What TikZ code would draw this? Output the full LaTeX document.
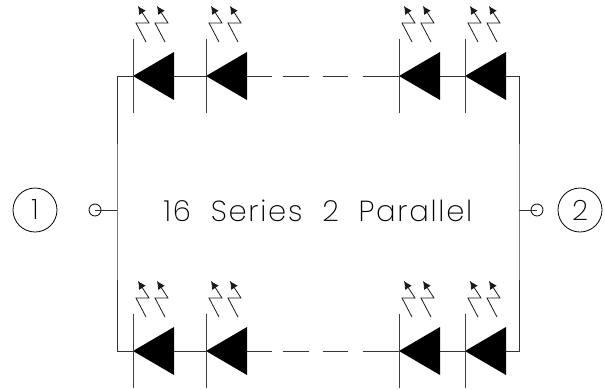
\documentclass[tikz,border=0pt]{standalone}
\usepackage{fontspec}
\newfontfamily\cadfont[UprightFont=* ExtraLight,LetterSpace=6,WordSpace=2.0]{Poppins}
\newfontfamily\numfont[UprightFont=* ExtraLight]{Poppins}
\usetikzlibrary{arrows.meta,calc}
\tikzset{
  x=1pt,y=-1pt,
  wire/.style={line width=1pt,black!80},
  bar/.style={line width=1pt,black!75},
  body/.style={fill=black,draw=none},
  ray/.style={line width=0.8pt,black!90,-{Latex[length=8pt,width=8pt]}},
  terminal/.style={circle,draw,line width=0.8pt,inner sep=0pt,minimum size=44pt,font=\numfont\fontsize{28}{28}\selectfont},
  port/.style={circle,draw,line width=0.8pt,inner sep=0pt,minimum size=12pt},
  caption/.style={inner sep=0pt,font=\cadfont\fontsize{29}{29}\selectfont}
}
\newcommand{\ledunit}[3]{% name, x, y
  \coordinate (#1) at (#2,#3);
  \coordinate (#1b) at (#2+41,#3);
  \fill[body] (#1) -- ($(#1b)+(0,-24)$) -- ($(#1b)+(0,24)$) -- cycle;
  \draw[bar] (#2,#3-37) -- (#2,#3+37);
  \foreach \d in {0,19}{
    \draw[ray] (#2+13+\d,#3-34) -- (#2+3+\d,#3-53) -- (#2+16+\d,#3-53) -- (#2+5+\d,#3-70);
  }
}
\begin{document}
\begin{tikzpicture}
\useasboundingbox (0,0) rectangle (605,389);
\ledunit{ta}{133}{76}
\ledunit{tb}{206}{76}
\ledunit{tc}{399}{76}
\ledunit{td}{465}{76}
\ledunit{ba}{133}{351}
\ledunit{bb}{206}{351}
\ledunit{bc}{399}{351}
\ledunit{bd}{465}{351}
\node[terminal] (t1) at (35,210) {1};
\node[terminal] (t2) at (580,210) {2};
\node[port] (p1) at (95,210) {};
\node[port] (p2) at (537,210) {};
\node[caption] (cap) at (318,211) {16 Series 2 Parallel};
\coordinate (l) at (117,210);
\coordinate (r) at (519,210);
\draw[wire] (ta) -| (l) |- (ba);
\draw[wire] (tdb) -| (r) |- (bdb);
\draw[wire,line width=0.8pt] (p1.center) -- (l);
\draw[wire,line width=0.8pt] (p2.center) -- (r);
\foreach \r in {t,b}{
  \draw[wire] (\r ab) -- (\r b);
  \draw[wire] (\r cb) -- (\r d);
  \draw[wire] (\r bb) -- +(25,0);
  \draw[wire] (\r c) -- +(-36,0);
}
\draw[wire] (283,76) -- (309,76);
\draw[wire] (323,76) -- (348,76);
\draw[wire] (283,351) -- (309,351);
\draw[wire] (323,351) -- (348,351);
\end{tikzpicture}
\end{document}
